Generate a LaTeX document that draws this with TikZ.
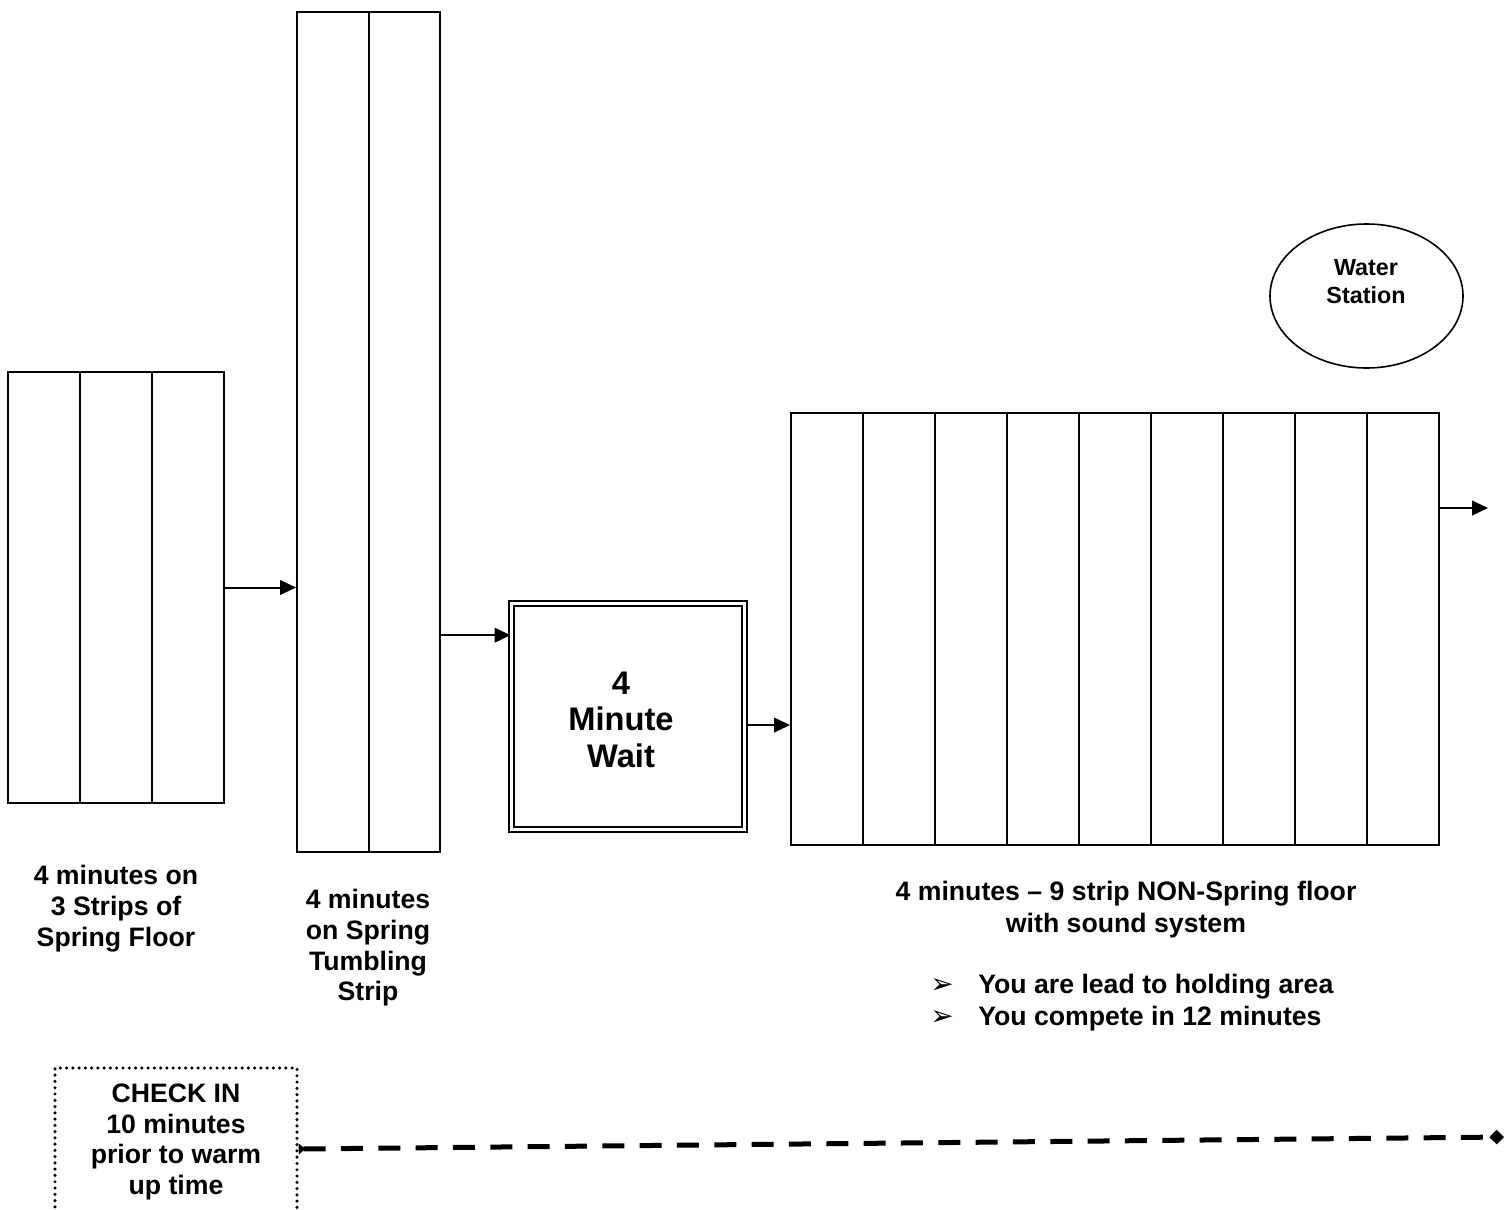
\documentclass[tikz,border=0pt]{standalone}
\usepackage{fontspec}
\setmainfont{Liberation Sans}
\newfontfamily\dejavu{DejaVu Sans}
\usetikzlibrary{arrows.meta,shapes.geometric}
\begin{document}
\begin{tikzpicture}[x=0.75pt,y=-0.75pt,
  strip/.style={draw,line width=1.5pt,rectangle,inner sep=0pt},
  stripline/.style={line width=1.5pt},
  flow/.style={line width=1.5pt,-{Triangle[length=12pt,width=11pt]}},
  lbl/.style={font=\fontsize{20}{23}\selectfont\bfseries,align=center,inner sep=0pt},
  bigl/.style={font=\fontsize{24.5}{27.4}\selectfont\bfseries,align=center,inner sep=0pt},
  smalll/.style={font=\fontsize{17.5}{21}\selectfont\bfseries,align=center,inner sep=0pt},
  dashline/.style={line width=3.75pt,dash pattern=on 16.5pt off 11.5pt,
    {Triangle[reversed,length=5pt,width=8pt]}-{Diamond[length=11pt,width=11pt]}},
  dotbox/.style={draw,line width=2.6pt,line cap=round,dash pattern=on 0pt off 4.7pt,rectangle,inner sep=0pt}]
\useasboundingbox (0,0) rectangle (1512,1209);
\clip (0,0) rectangle (1512,1209);

% spring floor, 3 strips
\node[strip,minimum width=162pt,minimum height=323.25pt] (b1) at (116,587.5) {};
\draw[stripline] (80,372) -- (80,803) (152,372) -- (152,803);

% tumbling strip
\node[strip,minimum width=107.25pt,minimum height=630pt] (b2) at (368.5,432) {};
\draw[stripline] (368.5,12) -- (368.5,852);

% wait box
\node[draw,line width=1.5pt,double,double distance=1.6pt,rectangle,inner sep=0pt,
  minimum width=174.75pt,minimum height=169.5pt] (wait) at (628,716.5) {};
\node[bigl] (waittxt) at (621,719.5) {4\\Minute\\Wait};

% 9 strip non-spring floor
\node[strip,minimum width=486pt,minimum height=324pt] (b3) at (1115,629) {};
\foreach \xx in {863,935,1007,1079,1151,1223,1295,1367}
  \draw[stripline] (\xx,413) -- (\xx,845);

% water station
\node[draw,line width=1.2pt,ellipse,minimum width=144.75pt,minimum height=108pt,inner sep=0pt] (water) at (1366.5,296) {};
\node[smalll] (watertxt) at (1366,282) {Water\\Station};

% arrows
\draw[flow] (b1.east) -- (b1.east -| b2.west);
\coordinate (a2) at ([yshift=61pt]wait.west);
\draw[flow] (a2 -| b2.east) -- (a2);
\coordinate (a3) at ([yshift=-6.4pt]wait.east);
\draw[flow] (a3) -- (a3 -| b3.west);
\coordinate (a4) at ([yshift=90.75pt]b3.east);
\coordinate (out) at ([xshift=36pt]a4);
\draw[flow] (a4) -- (out);

% labels
\node[lbl] (l1) at (116,908.5) {4 minutes on\\3 Strips of\\Spring Floor};
\node[lbl] (l2) at (368,948) {4 minutes\\on Spring\\Tumbling\\Strip};
\node[lbl,font=\fontsize{20}{24}\selectfont\bfseries] (l3) at (1126,910) {4 minutes -- 9 strip NON-Spring floor\\with sound system};
\node[lbl,align=left,anchor=west,font=\fontsize{20}{24}\selectfont\bfseries] (bul) at (930,1003)
  {\makebox[36pt][l]{\dejavu\fontsize{21}{21}\selectfont ➢}You are lead to holding area\\
   \makebox[36pt][l]{\dejavu\fontsize{21}{21}\selectfont ➢}You compete in 12 minutes};

% check in
\node[dotbox,minimum width=181.5pt,minimum height=111pt] (chk) at (176,1142) {};
\node[lbl] (chktxt) at (176,1142) {CHECK IN\\10 minutes\\prior to warm\\up time};
\coordinate (dend) at (1504,1137);
\draw[dashline] ([yshift=-5.25pt]chk.east) -- (dend);
\end{tikzpicture}
\end{document}
